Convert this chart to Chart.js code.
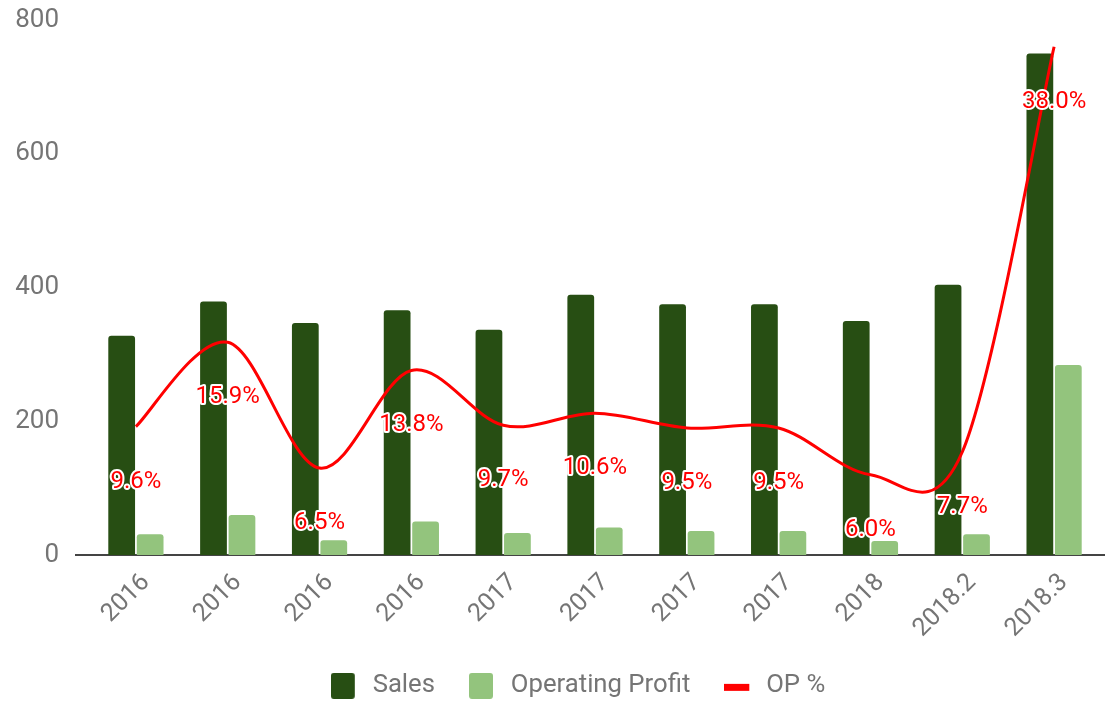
<!DOCTYPE html>
<html>
<head>
<meta charset="utf-8">
<script src="https://cdn.jsdelivr.net/npm/chart.js@4"></script>
<style>
  html, body { margin: 0; padding: 0; background: #ffffff; }
  #wrap { width: 1108px; height: 704px; position: relative; }
</style>
</head>
<body>
<div id="wrap"><canvas id="c" width="1108" height="704"></canvas></div>
<script>
const categories = ['2016', '2016', '2016', '2016', '2017', '2017', '2017', '2017', '2018', '2018.2', '2018.3'];
const sales = [328, 379, 347, 366, 337, 389, 375, 375, 350, 404, 750];
const operatingProfit = [31, 60, 22, 50, 33, 41, 36, 36, 21, 31, 284];
const opPercent = [9.6, 15.9, 6.5, 13.8, 9.7, 10.6, 9.5, 9.5, 6.0, 7.7, 38.0];
const yTicks = [0, 200, 400, 600, 800];

const FONT = 'Roboto';
const GREY = '#757575';
const DARK = '#274e13';
const LIGHT = '#93c47d';
const RED = '#ff0000';

function makeBox(color) {
  const cv = document.createElement('canvas');
  cv.width = 29; cv.height = 26;
  const g = cv.getContext('2d');
  g.fillStyle = color;
  g.beginPath();
  g.roundRect(0, 0, 24, 26, 3);
  g.fill();
  return cv;
}
function makeLine(color) {
  const cv = document.createElement('canvas');
  cv.width = 29; cv.height = 26;
  const g = cv.getContext('2d');
  g.fillStyle = color;
  g.fillRect(0, 11, 25, 7);
  return cv;
}

// Catmull-Rom style smoothing (uniform), like the reference's curved line
const curvePlugin = {
  id: 'curve',
  beforeDatasetsDraw(chart) {
    chart.data.datasets.forEach((d, di) => {
      if (d.type !== 'line') return;
      const meta = chart.getDatasetMeta(di);
      const pts = meta.data;
      const n = pts.length;
      for (let i = 0; i < n; i++) {
        const prev = pts[Math.max(i - 1, 0)];
        const next = pts[Math.min(i + 1, n - 1)];
        const dx = (next.x - prev.x) / 6, dy = (next.y - prev.y) / 6;
        pts[i].cp1x = pts[i].x - dx; pts[i].cp1y = pts[i].y - dy;
        pts[i].cp2x = pts[i].x + dx; pts[i].cp2y = pts[i].y + dy;
      }
      meta.dataset._pointsUpdated = true;
    });
  }
};

const baselinePlugin = {
  id: 'baseline',
  afterLayout(chart) {
    if (chart.legend) { chart.legend.left = 56; }
  },
  beforeDatasetsDraw(chart) {
    const y = chart.scales.y.getPixelForValue(0);
    const ctx = chart.ctx;
    ctx.save();
    ctx.strokeStyle = '#444444';
    ctx.lineWidth = 2;
    ctx.beginPath();
    ctx.moveTo(chart.chartArea.left - 15, y);
    ctx.lineTo(chart.chartArea.right + 5, y);
    ctx.stroke();
    ctx.restore();
  }
};

const labelPlugin = {
  id: 'oplabels',
  afterDatasetsDraw(chart) {
    const idx = chart.data.datasets.findIndex(d => d.type === 'line');
    const meta = chart.getDatasetMeta(idx);
    const ds = chart.data.datasets[idx];
    const ctx = chart.ctx;
    ctx.save();
    ctx.font = '400 24px ' + FONT;
    ctx.textAlign = 'center';
    ctx.textBaseline = 'middle';
    ctx.lineJoin = 'round';
    meta.data.forEach((pt, i) => {
      const txt = ds.data[i].toFixed(1) + '%';
      const x = pt.x, y = pt.y + 55;
      ctx.strokeStyle = '#ffffff';
      ctx.lineWidth = 4;
      ctx.strokeText(txt, x, y);
      ctx.fillStyle = RED;
      ctx.fillText(txt, x, y);
    });
    ctx.restore();
  }
};

new Chart(document.getElementById('c'), {
  data: {
    labels: categories,
    datasets: [
      {
        type: 'bar', label: 'Sales', data: sales, backgroundColor: DARK,
        borderWidth: 0, borderRadius: 3, yAxisID: 'y', order: 1,
        categoryPercentage: 0.62, barPercentage: 0.94
      },
      {
        type: 'bar', label: 'Operating Profit', data: operatingProfit, backgroundColor: LIGHT,
        borderWidth: 0, borderRadius: 3, yAxisID: 'y', order: 1,
        categoryPercentage: 0.62, barPercentage: 0.94
      },
      {
        type: 'line', label: 'OP %', data: opPercent, borderColor: RED, backgroundColor: RED,
        borderWidth: 3, pointRadius: 0, tension: 0.4, yAxisID: 'y1', order: 0
      }
    ]
  },
  options: {
    responsive: false,
    animation: false,
    devicePixelRatio: 1,
    layout: { padding: { left: 0, right: 8, top: 20, bottom: 0 } },
    plugins: {
      tooltip: { enabled: false },
      legend: {
        position: 'bottom',
        maxHeight: 65,
        labels: {
          usePointStyle: true,
          pointStyleWidth: 29,
          boxHeight: 24,
          padding: 34,
          color: GREY,
          font: { family: FONT, size: 25.7 },
          sort: (a, b) => a.datasetIndex - b.datasetIndex,
          generateLabels(chart) {
            const items = Chart.defaults.plugins.legend.labels.generateLabels(chart);
            items.forEach((it) => {
              const ds = chart.data.datasets[it.datasetIndex];
              it.pointStyle = ds.type === 'line' ? makeLine(RED) : makeBox(ds.backgroundColor);
              it.lineWidth = 0;
            });
            return items;
          }
        }
      }
    },
    scales: {
      x: {
        grid: { display: false, drawTicks: false },
        border: { display: false },
        ticks: {
          color: GREY, font: { family: FONT, size: 25 },
          minRotation: 45, maxRotation: 45, padding: 13, labelOffset: 10, autoSkip: false
        },
        afterFit(scale) { scale.height = 84; }
      },
      y: {
        min: 0, max: 800,
        afterBuildTicks(scale) { scale.ticks = yTicks.map(v => ({ value: v })); },
        grid: { display: false, drawTicks: false },
        border: { display: false },
        ticks: { color: GREY, font: { family: FONT, size: 26 }, padding: 31 },
        afterFit(scale) { scale.width = 90; scale.paddingTop = 14; scale.paddingBottom = 14; }
      },
      y1: {
        display: false, min: 0, max: 40
      }
    }
  },
  plugins: [curvePlugin, baselinePlugin, labelPlugin]
});
</script>
</body>
</html>
